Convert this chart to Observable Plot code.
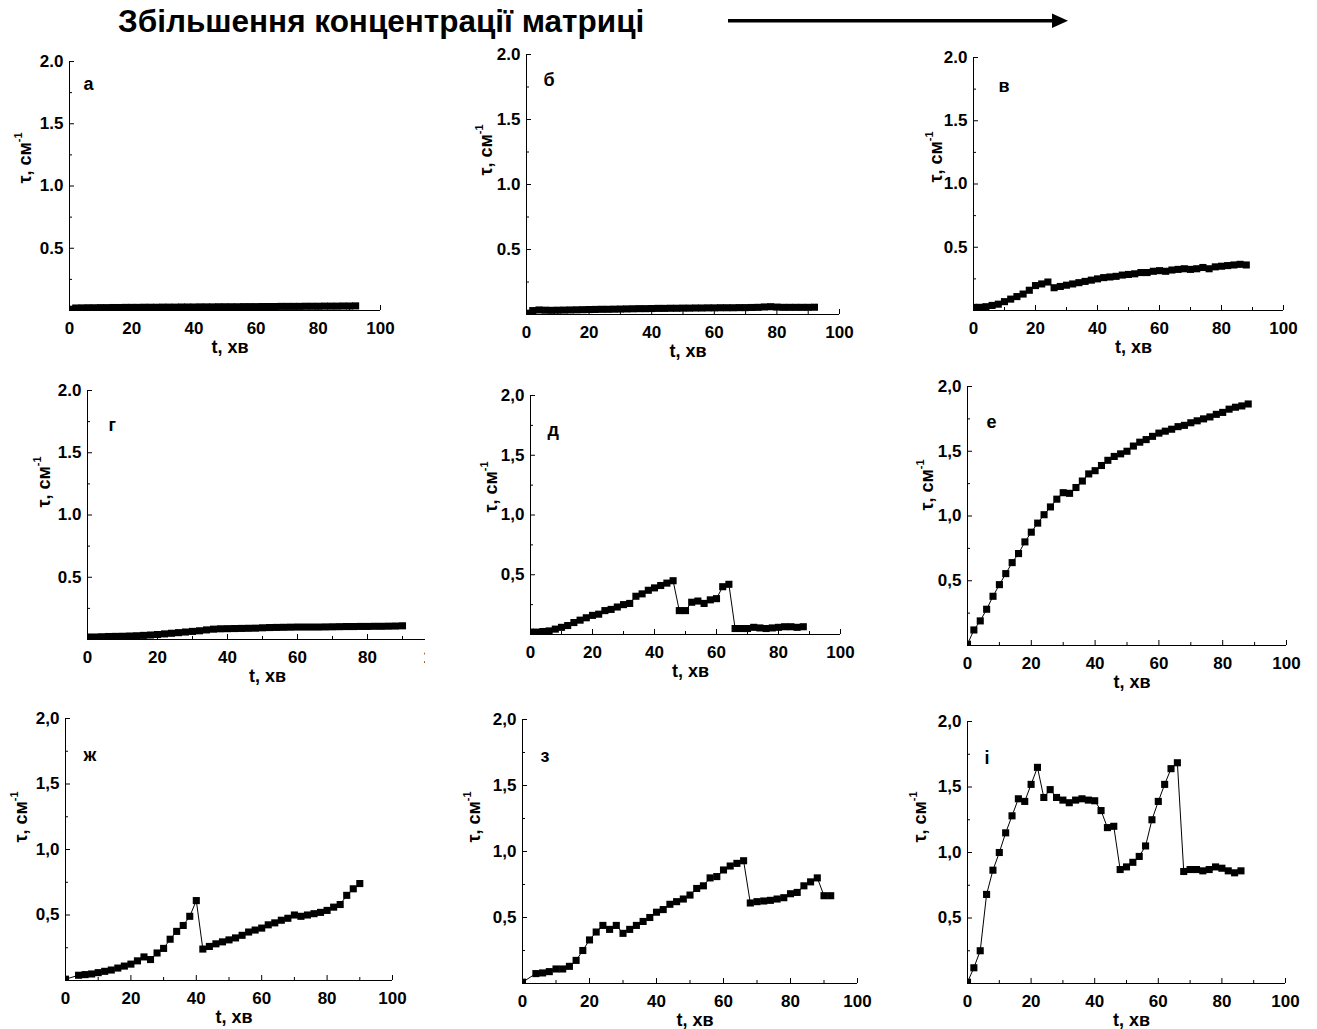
<!DOCTYPE html>
<html><head><meta charset="utf-8">
<script src="https://cdn.jsdelivr.net/npm/d3@7"></script>
<script src="https://cdn.jsdelivr.net/npm/@observablehq/plot@0.6"></script>
<style>
body{margin:0;background:#fff;}
#root{position:relative;width:1317px;height:1029px;overflow:hidden;font-family:"Liberation Sans",Arial,sans-serif;background:#fff;}
.panel{position:absolute;overflow:visible;}
.panel svg{max-width:none !important;}
</style></head><body><div id="root"></div>
<script>
// ---- text ----
const titleText = "Збільшення концентрації матриці";
const xLabel = "t, хв";
const yLabelMain = "τ, см";
const yLabelSup = "-1";

// ---- ticks ----
const xTicks = [0, 20, 40, 60, 80, 100];
const xMinor = [10, 30, 50, 70, 90];
const yTicks = [0.5, 1.0, 1.5, 2.0];
const yMinor = [0.25, 0.75, 1.25, 1.75];

// ---- data (t, min; tau, cm^-1) ----
const timeA = [0,2,4,6,8,10,12,14,16,18,20,22,24,26,28,30,32,34,36,38,40,42,44,46,48,50,52,54,56,58,60,62,64,66,68,70,72,74,76,78,80,82,84,86,88,90,92];
const tauA = [0.01,0.02,0.021,0.022,0.022,0.023,0.023,0.024,0.024,0.025,
  0.025,0.025,0.026,0.026,0.026,0.027,0.027,0.027,0.028,0.028,
  0.028,0.029,0.029,0.029,0.03,0.03,0.03,0.03,0.031,0.031,
  0.031,0.032,0.032,0.032,0.033,0.033,0.033,0.033,0.034,0.034,
  0.034,0.035,0.035,0.035,0.036,0.036,0.037];

const timeB = [0,2,4,6,8,10,12,14,16,18,20,22,24,26,28,30,32,34,36,38,40,42,44,46,48,50,52,54,56,58,60,62,64,66,68,70,72,74,76,78,80,82,84,86,88,90,92];
const tauB = [0.01,0.03,0.035,0.033,0.032,0.033,0.034,0.035,0.036,0.037,
  0.038,0.039,0.04,0.04,0.041,0.042,0.043,0.044,0.045,0.045,
  0.046,0.047,0.047,0.048,0.048,0.049,0.049,0.05,0.05,0.051,
  0.051,0.052,0.052,0.052,0.053,0.053,0.054,0.055,0.058,0.06,
  0.057,0.055,0.055,0.055,0.055,0.055,0.056];

const timeV = [0,2,4,6,8,10,12,14,16,18,20,22,24,26,28,30,32,34,36,38,40,42,44,46,48,50,52,54,56,58,60,62,64,66,68,70,72,74,76,78,80,82,84,86,88];
const tauV = [0.025,0.025,0.03,0.04,0.05,0.07,0.09,0.11,0.13,0.16,
  0.197,0.21,0.225,0.18,0.19,0.2,0.21,0.22,0.23,0.24,
  0.25,0.26,0.265,0.27,0.28,0.285,0.29,0.3,0.3,0.31,
  0.315,0.31,0.32,0.325,0.33,0.325,0.33,0.34,0.33,0.345,
  0.35,0.355,0.36,0.365,0.36];

const timeG = [0,2,4,6,8,10,12,14,16,18,20,22,24,26,28,30,32,34,36,38,40,42,44,46,48,50,52,54,56,58,60,62,64,66,68,70,72,74,76,78,80,82,84,86,88,90];
const tauG = [0.02,0.02,0.022,0.024,0.025,0.026,0.028,0.03,0.033,0.036,
  0.04,0.045,0.05,0.055,0.06,0.065,0.07,0.077,0.083,0.086,
  0.087,0.088,0.089,0.09,0.091,0.094,0.096,0.097,0.098,0.099,
  0.1,0.1,0.1,0.1,0.101,0.102,0.103,0.104,0.104,0.105,
  0.105,0.106,0.106,0.107,0.108,0.11];

const timeD = [0,2,4,6,8,10,12,14,16,18,20,22,24,26,28,30,32,34,36,38,40,42,44,46,48,50,52,54,56,58,60,62,64,66,68,70,72,74,76,78,80,82,84,86,88];
const tauD = [0.02,0.02,0.025,0.03,0.045,0.06,0.075,0.1,0.12,0.14,
  0.16,0.17,0.2,0.21,0.23,0.25,0.26,0.32,0.34,0.37,
  0.39,0.41,0.43,0.45,0.2,0.2,0.27,0.28,0.26,0.29,
  0.3,0.4,0.42,0.05,0.05,0.05,0.06,0.055,0.05,0.055,
  0.06,0.065,0.065,0.06,0.065];

const timeE = [0,2,4,6,8,10,12,14,16,18,20,22,24,26,28,30,32,34,36,38,40,42,44,46,48,50,52,54,56,58,60,62,64,66,68,70,72,74,76,78,80,82,84,86,88];
const tauE = [0.01,0.12,0.19,0.28,0.38,0.47,0.555,0.64,0.71,0.8,
  0.875,0.945,1.01,1.07,1.13,1.18,1.175,1.22,1.27,1.325,
  1.35,1.39,1.43,1.46,1.48,1.5,1.54,1.57,1.59,1.615,
  1.64,1.655,1.67,1.69,1.7,1.72,1.735,1.75,1.765,1.785,
  1.8,1.825,1.84,1.85,1.865];

const timeZh = [0,4,6,8,10,12,14,16,18,20,22,24,26,28,30,32,34,36,38,40,42,44,46,48,50,52,54,56,58,60,62,64,66,68,70,72,74,76,78,80,82,84,86,88,90];
const tauZh = [0.01,0.04,0.045,0.05,0.06,0.07,0.08,0.095,0.11,0.125,
  0.15,0.18,0.16,0.21,0.245,0.315,0.375,0.42,0.49,0.61,
  0.24,0.26,0.28,0.295,0.31,0.325,0.345,0.37,0.385,0.4,
  0.425,0.44,0.46,0.475,0.5,0.49,0.5,0.51,0.52,0.535,
  0.56,0.58,0.65,0.7,0.74];

const timeZ = [0,4,6,8,10,12,14,16,18,20,22,24,26,28,30,32,34,36,38,40,42,44,46,48,50,52,54,56,58,60,62,64,66,68,70,72,74,76,78,80,82,84,86,88,90,92];
const tauZ = [0.01,0.075,0.08,0.09,0.11,0.11,0.13,0.175,0.25,0.33,
  0.39,0.44,0.41,0.44,0.38,0.41,0.44,0.47,0.5,0.54,
  0.56,0.6,0.62,0.64,0.67,0.72,0.74,0.8,0.81,0.86,
  0.89,0.91,0.93,0.61,0.62,0.625,0.63,0.64,0.65,0.68,
  0.69,0.74,0.77,0.8,0.665,0.665];

const timeI = [0,2,4,6,8,10,12,14,16,18,20,22,24,26,28,30,32,34,36,38,40,42,44,46,48,50,52,54,56,58,60,62,64,66,68,70,72,74,76,78,80,82,84,86];
const tauI = [0.01,0.12,0.25,0.68,0.865,1.0,1.15,1.28,1.41,1.39,
  1.52,1.65,1.42,1.48,1.42,1.4,1.38,1.4,1.41,1.4,
  1.395,1.32,1.19,1.2,0.87,0.89,0.925,0.97,1.05,1.25,
  1.39,1.52,1.64,1.685,0.855,0.87,0.87,0.86,0.87,0.89,
  0.88,0.86,0.845,0.86];

// ---- layout (pixel frame of each panel) ----
const panels = [
  {id:"а", time:timeA, tau:tauA, x0:69,  x1:380,  y0:61,  y1:310, comma:false, lx:14, ly:28, ax:-44, ay:97},
  {id:"б", time:timeB, tau:tauB, x0:526, x1:839,  y0:54,  y1:314, comma:false, lx:17, ly:31, ax:-40, ay:96},
  {id:"в", time:timeV, tau:tauV, x0:973, x1:1283, y0:57,  y1:310, comma:false, lx:25, ly:34, ax:-37, ay:100},
  {id:"г", time:timeG, tau:tauG, x0:87,  x1:437,  y0:390, y1:639, comma:false, lx:21, ly:40, ax:-43, ay:92, clipRight:425},
  {id:"д", time:timeD, tau:tauD, x0:530, x1:840,  y0:395, y1:634, comma:true,  lx:17, ly:40, ax:-39, ay:92},
  {id:"е", time:timeE, tau:tauE, x0:967, x1:1286, y0:386, y1:645, comma:true,  lx:19, ly:41, ax:-40, ay:99},
  {id:"ж", time:timeZh, tau:tauZh, x0:65, x1:392, y0:718, y1:980, comma:true,  lx:18, ly:42, ax:-44, ay:99},
  {id:"з", time:timeZ, tau:tauZ, x0:522, x1:857,  y0:719, y1:983, comma:true,  lx:18, ly:42, ax:-48, ay:98},
  {id:"і", time:timeI, tau:tauI, x0:967, x1:1285, y0:721, y1:983, comma:true,  lx:17, ly:42, ax:-47, ay:96}
];

const root = document.getElementById("root");
const FONT = "'Liberation Sans', Arial, sans-serif";

// header: title + arrow
const hdr = d3.select(root).append("svg")
  .attr("width", 1317).attr("height", 45)
  .style("position", "absolute").style("left", "0px").style("top", "0px");
hdr.append("text").attr("x", 118).attr("y", 32)
  .attr("font-family", FONT).attr("font-size", 31.5).attr("font-weight", "bold")
  .text(titleText);
hdr.append("line").attr("x1", 728).attr("x2", 1056).attr("y1", 20.7).attr("y2", 20.7)
  .attr("stroke", "black").attr("stroke-width", 3.5);
hdr.append("path").attr("d", "M1052,13.5L1068,20.7L1052,28Z").attr("fill", "black");

const mL = 75, mR = 30, mT = 20, mB = 50;

for (const p of panels) {
  const data = p.time.map((t, i) => ({t, tau: p.tau[i]}));
  const fw = p.x1 - p.x0, fh = p.y1 - p.y0;
  const W = fw + mL + mR, H = fh + mT + mB;
  const fmt = p.comma ? (d => d.toFixed(1).replace(".", ",")) : (d => d.toFixed(1));
  const svg = Plot.plot({
    width: W, height: H,
    marginLeft: mL, marginRight: mR, marginTop: mT, marginBottom: mB,
    x: {domain: [0, 100]},
    y: {domain: [0, 2]},
    style: {fontFamily: FONT, fontSize: "17px", fontWeight: "bold", color: "black", background: "transparent", overflow: "visible", maxWidth: "none"},
    marks: [
      Plot.ruleX([0], {stroke: "black", strokeWidth: 1}),
      Plot.ruleY([0], {stroke: "black", strokeWidth: 1}),
      Plot.tickX(xTicks, {x: d => d, insetTop: fh - 5, stroke: "black"}),
      Plot.tickX(xMinor, {x: d => d, insetTop: fh - 3, stroke: "black"}),
      Plot.tickY(yTicks, {y: d => d, insetRight: fw - 5, stroke: "black"}),
      Plot.tickY(yMinor, {y: d => d, insetRight: fw - 3, stroke: "black"}),
      Plot.axisX(xTicks, {tickSize: 0, tickPadding: 11, tickFormat: d => String(d), label: null}),
      Plot.axisY(yTicks, {tickSize: 0, tickPadding: 6, tickFormat: fmt, label: null}),
      Plot.line(data, {x: "t", y: "tau", stroke: "black", strokeWidth: 1, clip: true}),
      Plot.dot(data, {x: "t", y: "tau", symbol: "square", r: 4, fill: "black", stroke: "none", clip: true}),
      Plot.text([p.id], {frameAnchor: "top-left", dx: p.lx, dy: p.ly, lineAnchor: "bottom", textAnchor: "start", fontSize: 18}),
      Plot.text([xLabel], {frameAnchor: "bottom", dx: 5, dy: 42, lineAnchor: "bottom", fontSize: 18})
    ]
  });
  svg.style.maxWidth = "none";
  svg.style.width = W + "px";
  svg.style.height = H + "px";
  // y-axis title with superscript
  const yl = d3.select(svg).append("text")
    .attr("transform", `translate(${mL + p.ax},${mT + p.ay}) rotate(-90)`)
    .attr("text-anchor", "middle").attr("dominant-baseline", "central")
    .attr("font-family", FONT).attr("font-size", 18).attr("font-weight", "bold").attr("fill", "black");
  yl.append("tspan").text(yLabelMain);
  yl.append("tspan").attr("dy", -7).attr("font-size", 11).text(yLabelSup);

  const wrap = document.createElement("div");
  wrap.className = "panel";
  wrap.style.left = (p.x0 - mL) + "px";
  wrap.style.top = (p.y0 - mT) + "px";
  wrap.style.width = W + "px";
  wrap.style.height = H + "px";
  if (p.clipRight) {
    wrap.style.overflow = "hidden";
    wrap.style.width = (p.clipRight - (p.x0 - mL)) + "px";
  }
  wrap.appendChild(svg);
  root.appendChild(wrap);
}
</script></body></html>
